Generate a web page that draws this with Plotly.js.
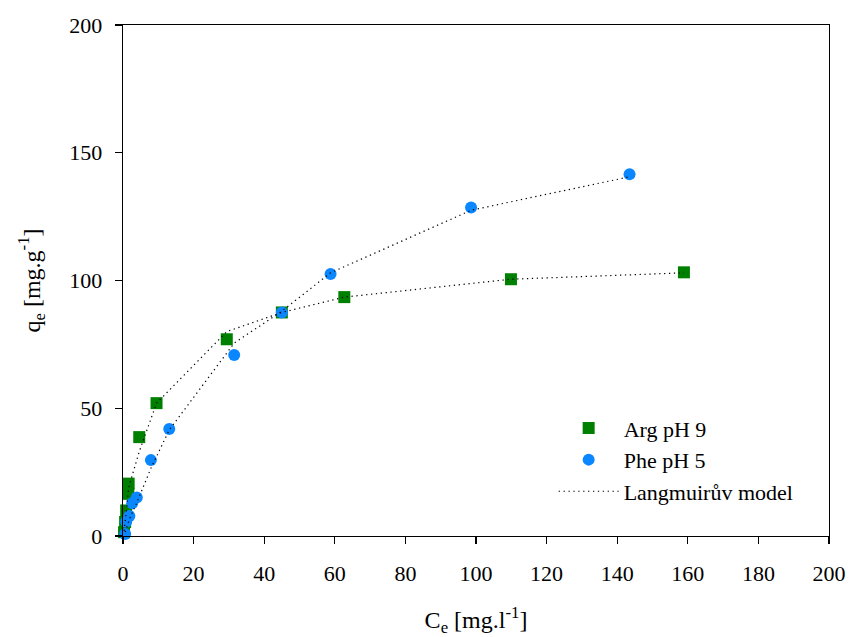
<!DOCTYPE html>
<html>
<head>
<meta charset="utf-8">
<script src="https://cdn.plot.ly/plotly-3.0.1.min.js"></script>
<style>html,body{margin:0;padding:0;background:#fff;}#chart{width:849px;height:637px;}</style>
</head>
<body>
<div id="chart"></div>
<script>
// Arg pH 9 measured
const argX = [0.3, 0.6, 0.9, 1.5, 1.6, 4.6, 9.5, 29.4, 45.0, 62.7, 109.9, 158.9];
const argQ = [1.5, 5.5, 10.0, 16.5, 20.5, 38.7, 52.0, 77.0, 87.5, 93.5, 100.5, 103.2];
// Phe pH 5 measured
const pheX = [0.6, 0.9, 1.8, 2.6, 3.9, 7.9, 13.1, 31.5, 45.0, 58.8, 98.6, 143.5];
const pheQ = [0.8, 5.6, 7.8, 12.8, 15.1, 29.7, 41.9, 70.8, 87.5, 102.5, 128.6, 141.6];
// Langmuir model values at the same concentrations
const argModelQ = [2, 5, 9, 17.5, 19, 33, 52, 80, 87.5, 93.5, 100.5, 103];
const pheModelQ = [1.5, 3, 6.5, 9, 13, 26.5, 41.5, 75.5, 88, 103, 127.5, 140.6];

const names = ["Arg pH 9", "Phe pH 5", "Langmuirův model"];
const xTicks = [0, 20, 40, 60, 80, 100, 120, 140, 160, 180, 200];
const yTicks = [0, 50, 100, 150, 200];

const font = "Liberation Serif";
const dotted = {color: "black", width: 1.2, dash: "1.3px,3.6px"};

const traces = [
  {x: argX, y: argQ, name: names[0], type: "scatter", mode: "markers", cliponaxis: false,
   marker: {symbol: "square", size: 12, color: "#008000"}},
  {x: pheX, y: pheQ, name: names[1], type: "scatter", mode: "markers", cliponaxis: false,
   marker: {symbol: "circle", size: 12, color: "#0a87ff"}},
  {x: argX, y: argModelQ, name: names[2], type: "scatter", mode: "lines", cliponaxis: false,
   line: dotted},
  {x: pheX, y: pheModelQ, name: names[2], type: "scatter", mode: "lines", cliponaxis: false,
   line: dotted, showlegend: false}
];

const axisCommon = {
  showline: true, linecolor: "black", linewidth: 1.3, mirror: true,
  ticks: "outside", ticklen: 7, tickwidth: 1.3, tickcolor: "black",
  showgrid: false, zeroline: false,
  tickfont: {family: font, size: 22, color: "black"},
  tickmode: "array"
};

const layout = {
  width: 849, height: 637,
  paper_bgcolor: "white", plot_bgcolor: "white",
  margin: {l: 123, r: 20, t: 25, b: 101},
  font: {family: font, color: "black"},
  showlegend: true,
  legend: {x: 0.61, y: 0.252, xanchor: "left", yanchor: "top",
           font: {family: font, size: 22, color: "black"},
           bgcolor: "rgba(0,0,0,0)", itemwidth: 60, tracegroupgap: 0},
  xaxis: Object.assign({}, axisCommon, {
    range: [0, 200], tickvals: xTicks, ticktext: xTicks.map(String),
    ticklabelstandoff: 10,
    title: {text: "C<sub>e</sub> [mg.l<sup>-1</sup>]", font: {family: font, size: 24, color: "black"}, standoff: 28}
  }),
  yaxis: Object.assign({}, axisCommon, {
    range: [0, 200], tickvals: yTicks, ticktext: yTicks.map(String),
    ticklabelstandoff: 8,
    title: {text: "q<sub>e</sub> [mg.g<sup>-1</sup>]", font: {family: font, size: 24, color: "black"}, standoff: 22}
  })
};

Plotly.newPlot("chart", traces, layout, {displayModeBar: false, staticPlot: true});
</script>
</body>
</html>
